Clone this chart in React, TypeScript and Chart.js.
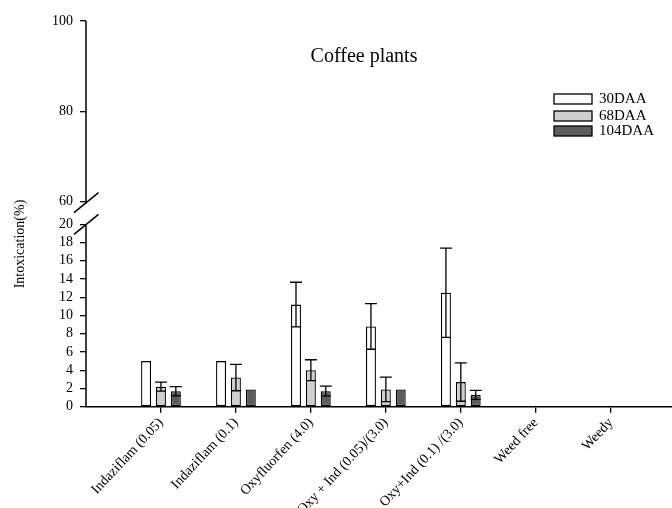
import { useEffect, useRef } from 'react';
import { Chart, registerables } from 'chart.js';

Chart.register(...registerables);

const categories = ['', 'Indaziflam (0.05)', 'Indaziflam (0.1)', 'Oxyfluorfen (4.0)', 'Oxy + Ind (0.05)/(3.0)', 'Oxy+Ind (0.1) /(3.0)', 'Weed free', 'Weedy', ''];
const seriesLabels = ['30DAA', '68DAA', '104DAA'];
const daa30 = [null, 5.0, 5.0, 11.2, 8.8, 12.5, 0, 0, null];
const daa30Err = [null, 0, 0, 2.45, 2.5, 4.9, 0, 0, null];
const daa68 = [null, 2.2, 3.2, 4.0, 1.9, 2.7, 0, 0, null];
const daa68Err = [null, 0.5, 1.45, 1.15, 1.35, 2.1, 0, 0, null];
const daa104 = [null, 1.7, 1.9, 1.7, 1.9, 1.3, 0, 0, null];
const daa104Err = [null, 0.5, 0, 0.55, 0, 0.5, 0, 0, null];
const lowerTicks = [0, 2, 4, 6, 8, 10, 12, 14, 16, 18, 20];
const upperTicks = [60, 80, 100];
const chartTitle = 'Coffee plants';
const yTitle = 'Intoxication(%)';

const FONT = "'Liberation Serif', 'Times New Roman', serif";
const fills = ['#ffffff', '#cfcfcf', '#5c5c5c'];
const errs = [daa30Err, daa68Err, daa104Err];

const decoPlugin = {
  id: 'deco',
  afterDatasetsDraw(chart: any) {
    const ctx = chart.ctx;
    const y = chart.scales.y;
    ctx.save();
    ctx.strokeStyle = '#000';
    ctx.lineWidth = 1.3;
    chart.data.datasets.forEach((ds: any, di: number) => {
      const meta = chart.getDatasetMeta(di);
      meta.data.forEach((bar: any, i: number) => {
        const v = ds.data[i];
        const e = errs[di][i];
        if (v == null || !e) return;
        const x = bar.x;
        const w = bar.width;
        const top = y.getPixelForValue(v + e);
        const bot = y.getPixelForValue(v - e);
        ctx.beginPath();
        ctx.moveTo(x, top);
        ctx.lineTo(x, bot);
        ctx.moveTo(x - w / 2 - 1, top);
        ctx.lineTo(x + w / 2 + 1, top);
        ctx.moveTo(x - w / 2, bot);
        ctx.lineTo(x + w / 2, bot);
        ctx.stroke();
      });
    });
    ctx.restore();
  },
  afterDraw(chart: any) {
    const ctx = chart.ctx;
    const y = chart.scales.y;
    const y2 = chart.scales.y2;
    const ax = chart.chartArea.left;
    ctx.save();
    ctx.strokeStyle = '#000';
    ctx.lineWidth = 1.5;
    const upTop = y2.getPixelForValue(100);
    const upBot = y2.getPixelForValue(60) + 1;
    const loTop = y.getPixelForValue(20);
    const loBot = y.getPixelForValue(0);
    ctx.beginPath();
    ctx.moveTo(ax, upTop);
    ctx.lineTo(ax, upBot);
    ctx.moveTo(ax, loTop);
    ctx.lineTo(ax, loBot);
    ctx.moveTo(ax - 12, upBot + 10);
    ctx.lineTo(ax + 12.5, upBot - 10);
    ctx.moveTo(ax - 12, loTop + 10);
    ctx.lineTo(ax + 12.5, loTop - 10);
    ctx.stroke();

    ctx.fillStyle = '#000';
    ctx.font = `20px ${FONT}`;
    ctx.textAlign = 'center';
    ctx.textBaseline = 'middle';
    ctx.fillText(chartTitle, 364, 57);

    ctx.save();
    ctx.translate(20, 244);
    ctx.rotate(-Math.PI / 2);
    ctx.font = `14px ${FONT}`;
    ctx.fillText(yTitle, 0, 0);
    ctx.restore();

    const rows = [99, 116, 131];
    ctx.font = `15px ${FONT}`;
    ctx.textAlign = 'left';
    ctx.lineWidth = 1.3;
    chart.data.datasets.forEach((ds: any, i: number) => {
      const cy = rows[i];
      ctx.fillStyle = ds.backgroundColor;
      ctx.fillRect(554, cy - 5, 38, 10);
      ctx.strokeRect(554, cy - 5, 38, 10);
      ctx.fillStyle = '#000';
      ctx.fillText(ds.label, 599, cy + 0.5);
    });
    ctx.restore();
  },
};

export default function App() {
  const ref = useRef<HTMLCanvasElement>(null);
  useEffect(() => {
    if (!ref.current) return;
    const tickFont = { family: FONT, size: 14 };
    const chart = new Chart(ref.current, {
      type: 'bar',
      data: {
        labels: categories,
        datasets: [daa30, daa68, daa104].map((d, i) => ({
          label: seriesLabels[i],
          data: d,
          backgroundColor: fills[i],
          borderColor: '#000',
          borderWidth: 1.3,
          borderSkipped: false,
          categoryPercentage: 0.596,
          barPercentage: 0.667,
          yAxisID: 'y',
        })) as any,
      },
      options: {
        animation: false,
        responsive: false,
        layout: { padding: { top: 21, right: 10, left: 0, bottom: 0 } },
        plugins: { legend: { display: false }, tooltip: { enabled: false } },
        scales: {
          x: {
            type: 'category',
            offset: false,
            grid: {
              drawOnChartArea: false,
              tickLength: 6,
              color: (c: any) => (c.index === 0 ? 'rgba(0,0,0,0)' : '#000'),
              lineWidth: 1.3,
              offset: false,
            },
            border: { display: true, color: '#000', width: 1.5 },
            ticks: { autoSkip: false, maxRotation: 47, minRotation: 47, color: '#000', font: { family: FONT, size: 14 }, padding: 2 },
            afterFit: (s: any) => { s.height = 101.3; },
          },
          y: {
            type: 'linear',
            position: 'left',
            stack: 'v',
            stackWeight: 193.7,
            min: 0,
            max: 21.26,
            afterBuildTicks: (s: any) => { s.ticks = lowerTicks.map((v) => ({ value: v })); },
            afterFit: (s: any) => { s.width = 86; },
            grid: { drawOnChartArea: false, tickLength: 6, color: '#000', lineWidth: 1.3 },
            border: { display: false },
            ticks: { autoSkip: false, color: '#000', font: tickFont, padding: 7 },
          },
          y2: {
            type: 'linear',
            position: 'left',
            stack: 'v',
            stackWeight: 191.7,
            min: 57.5,
            max: 100,
            afterBuildTicks: (s: any) => { s.ticks = upperTicks.map((v) => ({ value: v })); },
            afterFit: (s: any) => { s.width = 86; },
            grid: { drawOnChartArea: false, tickLength: 6, color: '#000', lineWidth: 1.3 },
            border: { display: false },
            ticks: { autoSkip: false, color: '#000', font: tickFont, padding: 7 },
          },
        },
      } as any,
      plugins: [decoPlugin],
    });
    return () => chart.destroy();
  }, []);
  return (
    <div style={{ position: 'fixed', left: 0, top: 0, width: 672, height: 508, overflow: 'hidden', background: '#fff' }}>
      <canvas ref={ref} width={700} height={508} style={{ width: 700, height: 508, display: 'block' }} />
    </div>
  );
}
